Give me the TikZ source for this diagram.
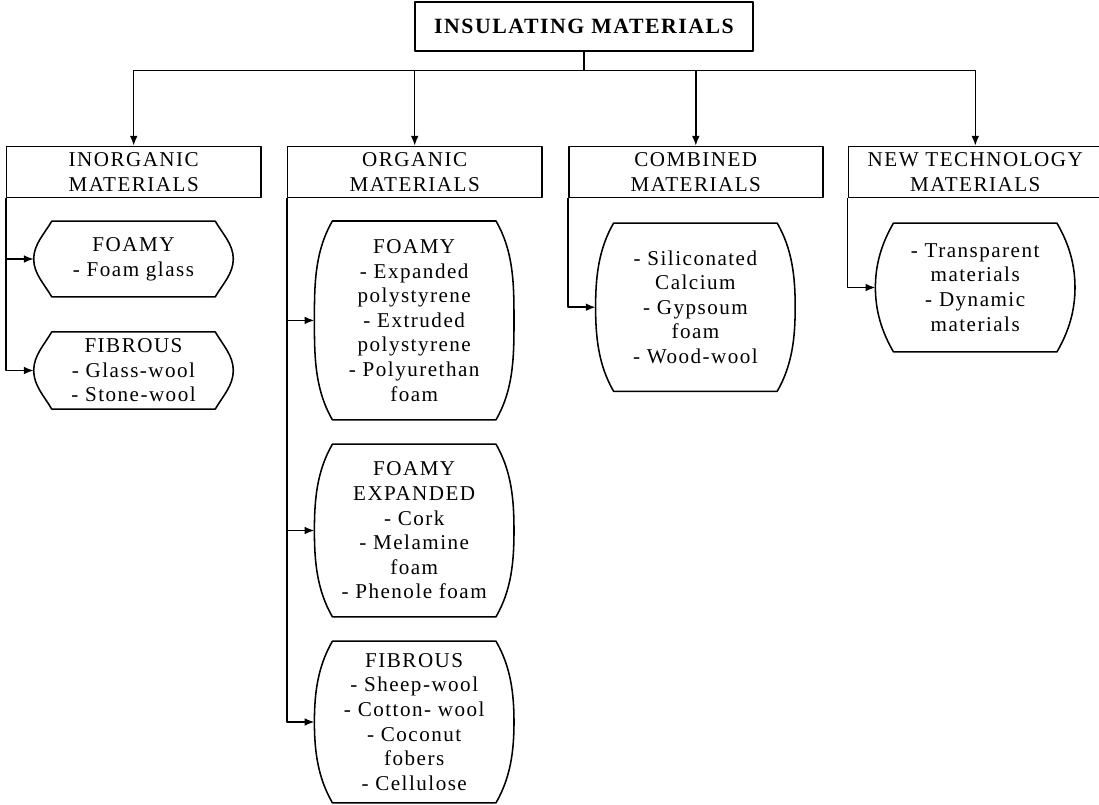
\documentclass[tikz,border=0pt]{standalone}
\usepackage{fontspec}
\setmainfont{Liberation Serif}[LetterSpace=7]
\usepackage{tikz}
\usetikzlibrary{positioning,arrows.meta}

\newcommand{\barrel}[1]{%
	\draw (#1.west) to[out=90,in=-120,looseness=0.9] ([xshift=12.8pt]#1.north west)
	-- ([xshift=-12.8pt]#1.north east) to[out=-60,in=90,looseness=0.9] (#1.east)
	to[out=-90,in=60,looseness=0.9] ([xshift=-12.8pt]#1.south east)
	-- ([xshift=12.8pt]#1.south west) to[out=120,in=-90,looseness=0.9] (#1.west) -- cycle;}

\begin{document}
\begin{tikzpicture}[
	x=0.025cm, y=0.025cm,
	line width=1.1pt, line join=round,
	every node/.style={
		font=\fontsize{15}{17.5}\selectfont
	},
	head/.style={
		draw,
		font=\fontsize{15.5}{17.5}\selectfont\bfseries,
		minimum width=8.45cm,
		minimum height=1.225cm
	},
	cat/.style={
		draw,
		align=center,
		inner sep=1pt,
		minimum width=6.35cm,
		minimum height=1.275cm
	},
	bar/.style={
		align=center,
		inner sep=1pt,
		minimum width=4.95cm
	},
	arr/.style={
		-{Latex[length=7pt,width=5.5pt]}
	}
	]
	\useasboundingbox (0,0) rectangle (1099,804);

	\node[head] at (584,777.5) (ins) {INSULATING MATERIALS};

	\node[cat] at (133.7,632) (inorg) {INORGANIC\\MATERIALS};
	\node[cat] at (414.7,632) (org) {ORGANIC\\MATERIALS};
	\node[cat] at (695.8,632) (comb) {COMBINED\\MATERIALS};
	\node[cat] at (975.3,632) (newt) {NEW TECHNOLOGY\\MATERIALS};

	\node[bar, minimum height=1.85cm] at (133.5,545) (f1)
	{FOAMY\\- Foam glass};
	\node[bar, minimum height=1.89cm] at (133.5,433.5) (f2)
	{FIBROUS\\- Glass-wool\\- Stone-wool};

	\node[bar, minimum height=4.93cm] at (414.2,483.6) (o1)
	{FOAMY\\- Expanded\\polystyrene\\- Extruded\\polystyrene\\- Polyurethan\\foam};
	\node[bar, minimum height=4.275cm] at (414.2,273.5) (o2)
	{FOAMY\\EXPANDED\\- Cork\\- Melamine\\foam\\- Phenole foam};
	\node[bar, minimum height=4cm] at (414.2,82) (o3)
	{FIBROUS\\- Sheep-wool\\- Cotton- wool\\- Coconut\\fobers\\- Cellulose};

	\node[bar, minimum height=4.165cm] at (695.4,496.8) (c1)
	{- Siliconated\\Calcium\\- Gypsoum\\foam\\- Wood-wool};

	\node[bar, minimum height=3.175cm] at (975.2,516.5) (n1)
	{- Transparent\\materials\\- Dynamic\\materials};

	\barrel{f1}
	\barrel{f2}
	\barrel{o1}
	\barrel{o2}
	\barrel{o3}
	\barrel{c1}
	\barrel{n1}

	\draw[arr] (ins.south) -- ++(0,-18.5) -| (inorg.north);
	\draw[arr] (ins.south) -- ++(0,-18.5) -| (org.north);
	\draw[arr] (ins.south) -- ++(0,-18.5) -| (comb.north);
	\draw[arr] (ins.south) -- ++(0,-18.5) -| (newt.north);

	\draw[arr] (inorg.south west) |- (f1.west);
	\draw[arr] (inorg.south west) |- (f2.west);
	\draw[arr] (org.south west) |- (o1.west);
	\draw[arr] (org.south west) |- (o2.west);
	\draw[arr] (org.south west) |- (o3.west);
	\draw[arr] (comb.south west) |- (c1.west);
	\draw[arr] (newt.south west) |- (n1.west);

\end{tikzpicture}
\end{document}
